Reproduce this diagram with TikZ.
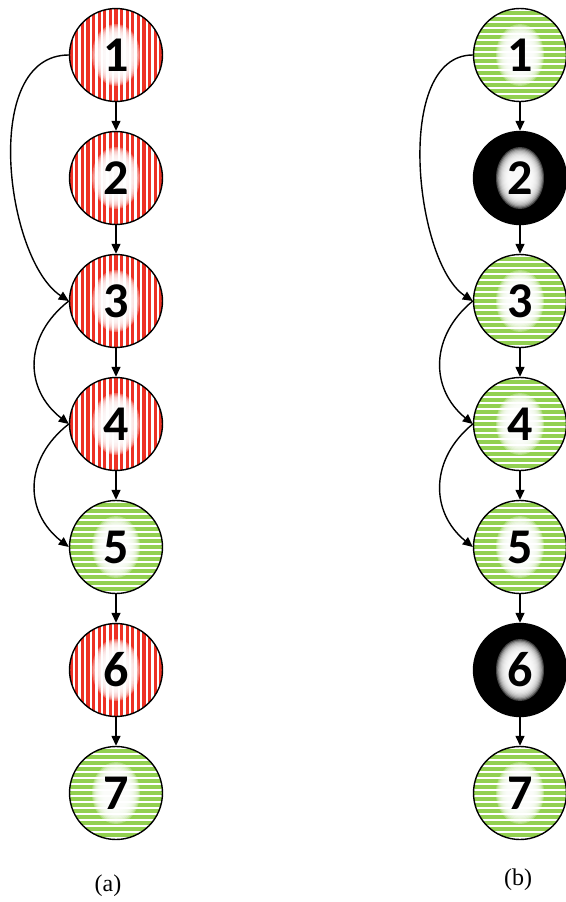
\documentclass[tikz,border=0pt]{standalone}
\usepackage{fontspec}
\newfontfamily\digitfont{Carlito}
\newfontfamily\labfont{Liberation Serif}
\usetikzlibrary{arrows.meta}
\definecolor{stripered}{RGB}{237,49,36}
\definecolor{stripegreen}{RGB}{146,208,80}
\newcommand{\glowrings}{%
  \foreach \k in {0,...,11}
    \fill[white, opacity=0.28] (path picture bounding box.center) ellipse [x radius={(24-\k*1.1)*1pt}, y radius={(31-\k*1.3)*1pt}];}
\tikzset{
  nodebase/.style={circle, draw=black, line width=1.4pt, minimum size=93pt, inner sep=0pt,
    font=\digitfont\bfseries\fontsize{50}{50}\selectfont},
  rednode/.style={nodebase, fill=white, path picture={
      \foreach \i in {-9,...,9}
        \fill[stripered] ([xshift=\i*5.6pt-1.6pt, yshift=-50pt]path picture bounding box.center) rectangle +(3.2pt,100pt);
      \glowrings}},
  greennode/.style={nodebase, fill=white, path picture={
      \foreach \i in {-9,...,9}
        \fill[stripegreen] ([yshift=\i*6pt-1.8pt, xshift=-50pt]path picture bounding box.center) rectangle +(100pt,3.6pt);
      \glowrings}},
  blacknode/.style={nodebase, fill=black, path picture={\glowrings}},
  arr/.style={line width=1.4pt, -{Triangle[length=10pt,width=9pt]}},
  caption/.style={font=\labfont\fontsize{24}{24}\selectfont}
}
\begin{document}
\begin{tikzpicture}[x=1pt,y=-1pt]
\useasboundingbox (0,0) rectangle (565,902);
% column (a)
\node[rednode]   (a1) at (116,55)  {1};
\node[rednode]   (a2) at (116,178) {2};
\node[rednode]   (a3) at (116,301) {3};
\node[rednode]   (a4) at (116,424) {4};
\node[greennode] (a5) at (116,547) {5};
\node[rednode]   (a6) at (116,670) {6};
\node[greennode] (a7) at (116,793) {7};
\foreach \p/\q in {a1/a2,a2/a3,a3/a4,a4/a5,a5/a6,a6/a7}
  \draw[arr] (\p.south) -- (\q.north);
\draw[arr] (a1.west) .. controls +(-89,0) and +(-63,-41) .. (a3.west);
\draw[arr] (a3.west) .. controls +(-45,35) and +(-45,-35) .. (a4.west);
\draw[arr] (a4.west) .. controls +(-45,35) and +(-45,-35) .. (a5.west);
\node[caption] (capa) at (108,886) {(a)};
% column (b)
\node[greennode] (b1) at (520,55)  {1};
\node[blacknode] (b2) at (520,178) {2};
\node[greennode] (b3) at (520,301) {3};
\node[greennode] (b4) at (520,424) {4};
\node[greennode] (b5) at (520,547) {5};
\node[blacknode] (b6) at (520,670) {6};
\node[greennode] (b7) at (520,793) {7};
\foreach \p/\q in {b1/b2,b2/b3,b3/b4,b4/b5,b5/b6,b6/b7}
  \draw[arr] (\p.south) -- (\q.north);
\draw[arr] (b1.west) .. controls +(-80,0) and +(-58,-38) .. (b3.west);
\draw[arr] (b3.west) .. controls +(-43,35) and +(-43,-35) .. (b4.west);
\draw[arr] (b4.west) .. controls +(-43,35) and +(-43,-35) .. (b5.west);
\node[caption] (capb) at (518,880) {(b)};
\end{tikzpicture}
\end{document}
